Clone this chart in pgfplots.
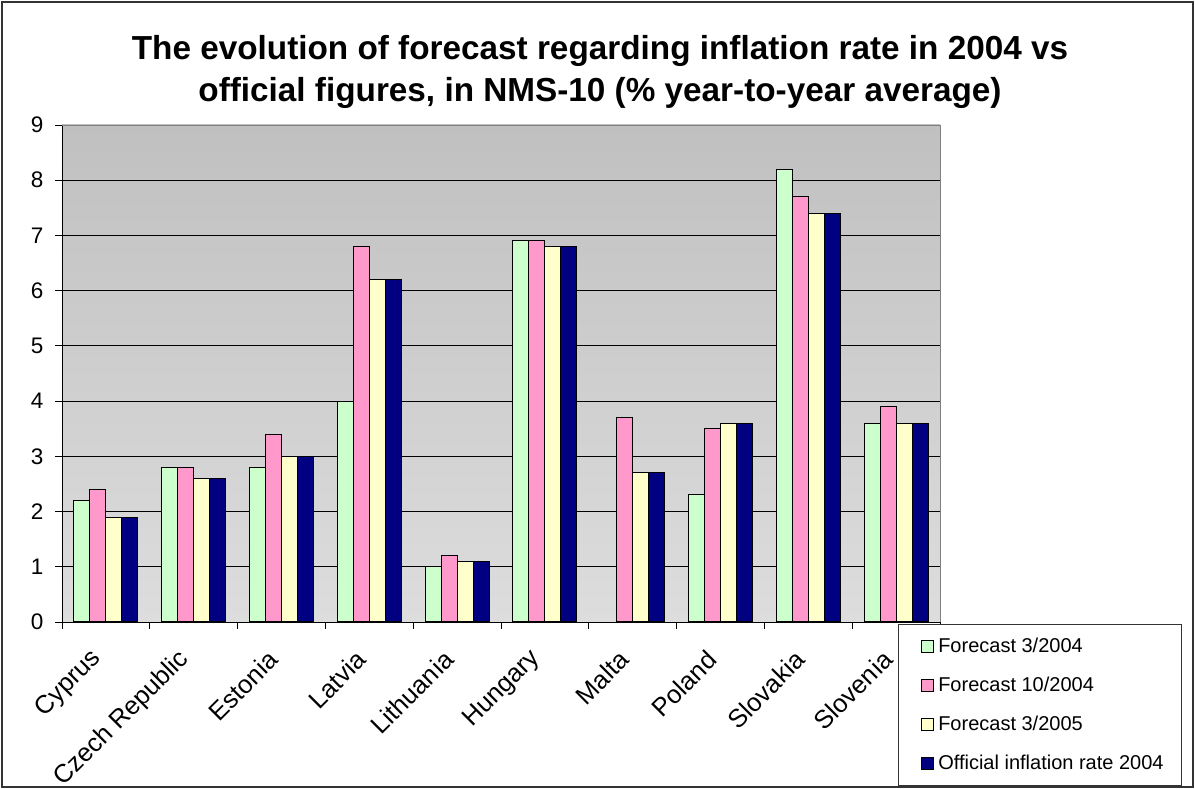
\documentclass[border=0pt]{standalone}
\usepackage{pgfplots}
\pgfplotsset{compat=1.18}
\usepackage{fontspec}
\setmainfont{Liberation Sans}
\definecolor{cGreen}{HTML}{CCFFCC}
\definecolor{cPink}{HTML}{FF99CC}
\definecolor{cYellow}{HTML}{FFFFCC}
\definecolor{cNavy}{HTML}{000080}
\definecolor{bgTop}{HTML}{C0C0C0}
\definecolor{bgBot}{HTML}{DDDDDD}
\begin{document}
\begin{tikzpicture}[x=1pt,y=1pt]
\path[use as bounding box] (0,0) rectangle (1195,789);
\draw[line width=1.4pt, draw=black!80] (2,2) rectangle (1193,787);
\node[anchor=base, font=\fontsize{33.3}{36}\selectfont\bfseries] at (600,729) {The evolution of forecast regarding inflation rate in 2004 vs};
\node[anchor=base, font=\fontsize{33.3}{36}\selectfont\bfseries] at (600,687) {official figures, in NMS-10 (\% year-to-year average)};
\begin{axis}[
  at={(105.9pt,167pt)}, anchor=origin,
  scale only axis, width=878pt, height=497pt,
  ybar=0pt, bar width=16pt,
  xmin=-0.5, xmax=9.5, ymin=0, ymax=9,
  ytick={0,1,...,9},
  xtick={0,...,9},
  xticklabels={Cyprus,Czech Republic,Estonia,Latvia,Lithuania,Hungary,Malta,Poland,Slovakia,Slovenia},
  minor xtick={-0.5,0.5,...,9.5},
  major x tick style={draw=none},
  minor tick length=7pt, major tick length=7pt,
  tick align=outside,
  tick style={black, line width=0.9pt},
  axis lines*=left,
  axis line style={black, line width=0.9pt},
  ymajorgrids, major grid style={black, line width=0.8pt},
  axis background/.style={top color=bgTop, bottom color=bgBot},
  /pgf/number format/assume math mode=true,
  yticklabel style={font=\fontsize{22.5}{26}\selectfont, xshift=-8pt},
  xticklabel style={font=\fontsize{25.5}{28}\selectfont, xshift=-6pt, yshift=-24pt, rotate=45, anchor=east},
  legend image code/.code={\path (-9pt,0pt); \draw[#1, draw=black, line width=0.8pt] (0pt,-6pt) rectangle (12pt,6pt);},
  legend style={at={(axis description cs:1.2756,-0.004)}, anchor=north east,
    draw=black!80, fill=white, line width=0.8pt,
    font=\fontsize{20}{23}\selectfont, row sep=19pt,
    inner xsep=14pt, inner ysep=12pt,
    nodes={inner sep=2pt, inner xsep=4pt}},
  legend cell align=left,
  clip=false,
]
\addplot[fill=cGreen, draw=black, line width=1pt] coordinates {(0,2.2) (1,2.8) (2,2.8) (3,4.0) (4,1.0) (5,6.9) (7,2.3) (8,8.2) (9,3.6)};
\addplot[fill=cPink, draw=black, line width=1pt] coordinates {(0,2.4) (1,2.8) (2,3.4) (3,6.8) (4,1.2) (5,6.9) (6,3.7) (7,3.5) (8,7.7) (9,3.9)};
\addplot[fill=cYellow, draw=black, line width=1pt] coordinates {(0,1.9) (1,2.6) (2,3.0) (3,6.2) (4,1.1) (5,6.8) (6,2.7) (7,3.6) (8,7.4) (9,3.6)};
\addplot[fill=cNavy, draw=black, line width=1pt] coordinates {(0,1.9) (1,2.6) (2,3.0) (3,6.2) (4,1.1) (5,6.8) (6,2.7) (7,3.6) (8,7.4) (9,3.6)};
\legend{Forecast 3/2004, Forecast 10/2004, Forecast 3/2005, Official inflation rate 2004}
\draw[gray, line width=0.8pt] (rel axis cs:0,1) -- (rel axis cs:1,1) -- (rel axis cs:1,0);
\end{axis}
\end{tikzpicture}
\end{document}
